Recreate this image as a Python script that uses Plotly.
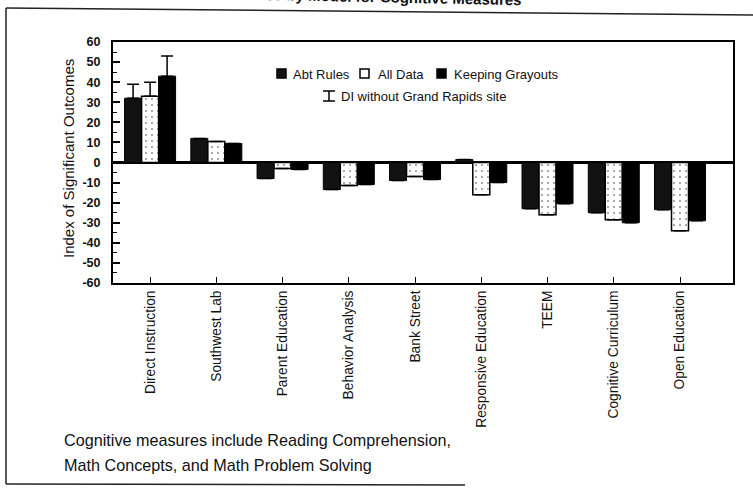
import plotly.graph_objects as go

# Program models (x-axis categories)
models = [
    "Direct Instruction", "Southwest Lab", "Parent Education",
    "Behavior Analysis", "Bank Street", "Responsive Education",
    "TEEM", "Cognitive Curriculum", "Open Education",
]

# Index of significant outcomes under each scoring rule
abt_rules = [32, 12, -8, -13.5, -9, 1.5, -23, -25, -23.5]
all_data = [33, 10.5, -3, -11.5, -7, -16, -26, -28.5, -34]
keeping_grayouts = [43, 9.5, -3.5, -11, -8.5, -10, -20.5, -30, -29]

# Direct Instruction recomputed without the Grand Rapids site
di_without_grand_rapids = [39, 40, 53]

y_ticks = list(range(-60, 61, 10))
y_tick_text = [str(v) for v in y_ticks]

W, H = 753, 489
L, R, T, B = 113, 733, 42, 283  # plot area in pixels


def px_x(px):
    return (px - L) / (R - L)


def px_y(py):
    return (B - py) / (B - T)


def di_error(values, i):
    up = [float("nan")] * len(models)
    up[0] = di_without_grand_rapids[i] - values[0]
    down = [float("nan")] * len(models)
    down[0] = 0
    return dict(type="data", symmetric=False, array=up, arrayminus=down,
                color="black", thickness=1.5, width=6)


fig = go.Figure()
fig.add_bar(
    x=models, y=abt_rules, name="Abt Rules",
    marker=dict(color="#121212", line=dict(color="black", width=1)),
    error_y=di_error(abt_rules, 0),
)
fig.add_bar(
    x=models, y=all_data, name="All Data",
    marker=dict(color="white", line=dict(color="black", width=1.5),
                pattern=dict(shape=".", fgcolor="black", bgcolor="white",
                             size=6, solidity=0.07)),
    error_y=di_error(all_data, 1),
)
fig.add_bar(
    x=models, y=keeping_grayouts, name="Keeping Grayouts",
    marker=dict(color="black", line=dict(color="black", width=1)),
    error_y=di_error(keeping_grayouts, 2),
)

font_family = "Liberation Sans, Arial, sans-serif"

fig.update_layout(
    width=W, height=H, autosize=False,
    margin=dict(l=L, r=W - R, t=T, b=H - B, pad=0),
    paper_bgcolor="white", plot_bgcolor="white",
    barmode="group", bargap=0.23, bargroupgap=0,
    showlegend=False,
    font=dict(family=font_family, color="#111111"),
    xaxis=dict(
        range=[-0.56, 8.8], showline=True, linecolor="black", linewidth=2,
        mirror=True, ticks="inside", ticklen=6, tickwidth=1.2,
        tickcolor="black", tickangle=-90, showgrid=False,
        tickfont=dict(size=13.8, family=font_family, color="#111111"),
    ),
    yaxis=dict(
        range=[-60, 60], tickvals=y_ticks, ticktext=y_tick_text,
        showline=True, linecolor="black",
        linewidth=2, mirror=True, ticks="inside", ticklen=7, tickwidth=1.5,
        tickcolor="black", showgrid=False, zeroline=True,
        zerolinecolor="black", zerolinewidth=2.5, ticklabelstandoff=8,
        minor=dict(ticks="inside", ticklen=4, dtick=5, tickcolor="black",
                   tickwidth=1.2, showgrid=False),
        tickfont=dict(size=12.5, family=font_family,
                      color="#111111", weight="bold"),
    ),
)

shapes = []
annotations = []

# Axis title
annotations.append(dict(
    text="Index of Significant Outcomes", xref="paper", yref="paper",
    x=px_x(68), y=px_y(159), textangle=-90, showarrow=False,
    xanchor="center", yanchor="middle",
    font=dict(size=15, family=font_family, color="#111111"),
))

# Legend row 1: swatches and labels
legend_items = [
    (277, 291, "Abt Rules", "#121212", "black"),
    (360, 376, "All Data", "white", "black"),
    (437, 452, "Keeping Grayouts", "black", "black"),
]
for sx, tx, label, fill, edge in legend_items:
    shapes.append(dict(type="rect", xref="paper", yref="paper",
                       x0=px_x(sx), x1=px_x(sx + 9), y0=px_y(78), y1=px_y(69),
                       fillcolor=fill, line=dict(color=edge, width=1.5)))
    annotations.append(dict(
        text=label, xref="paper", yref="paper", x=px_x(tx), y=px_y(74),
        xanchor="left", yanchor="middle", showarrow=False,
        font=dict(size=13, family=font_family, color="#111111"),
    ))

# Legend row 2: error-bar glyph and label
gx = 329
for seg in [((gx, 91), (gx, 101)), ((gx - 6, 91), (gx + 6, 91)),
            ((gx - 6, 101), (gx + 6, 101))]:
    (ax, ay), (bx, by) = seg
    shapes.append(dict(type="line", xref="paper", yref="paper",
                       x0=px_x(ax), y0=px_y(ay), x1=px_x(bx), y1=px_y(by),
                       line=dict(color="black", width=1.5)))
annotations.append(dict(
    text="DI without Grand Rapids site", xref="paper", yref="paper",
    x=px_x(339), y=px_y(96), xanchor="left", yanchor="middle",
    showarrow=False,
    font=dict(size=13, family=font_family, color="#111111"),
))

# Footnote
for text, py in [("Cognitive measures include Reading Comprehension,", 440),
                 ("Math Concepts, and Math Problem Solving", 465)]:
    annotations.append(dict(
        text=text, xref="paper", yref="paper", x=px_x(62), y=px_y(py),
        xanchor="left", yanchor="middle", showarrow=False,
        font=dict(size=16.2, family=font_family, color="#111111"),
    ))

# Page heading, mostly above the top edge and slightly tilted
annotations.append(dict(
    text="Outcomes by Model for Cognitive Measures", xref="paper",
    yref="paper", x=px_x(365), y=px_y(-4), xanchor="center",
    yanchor="middle", showarrow=False, textangle=1.2,
    font=dict(size=15, family=font_family, color="#111111", weight="bold"),
))

# Page frame
for (ax, ay), (bx, by) in [((6, 8), (753, 15)), ((6, 8), (6, 484)),
                           ((6, 484), (465, 485))]:
    shapes.append(dict(type="line", xref="paper", yref="paper",
                       x0=px_x(ax), y0=px_y(ay), x1=px_x(bx), y1=px_y(by),
                       line=dict(color="#222222", width=1.5)))

fig.update_layout(shapes=shapes, annotations=annotations)

fig.write_html("out.html", config={"displayModeBar": False})
